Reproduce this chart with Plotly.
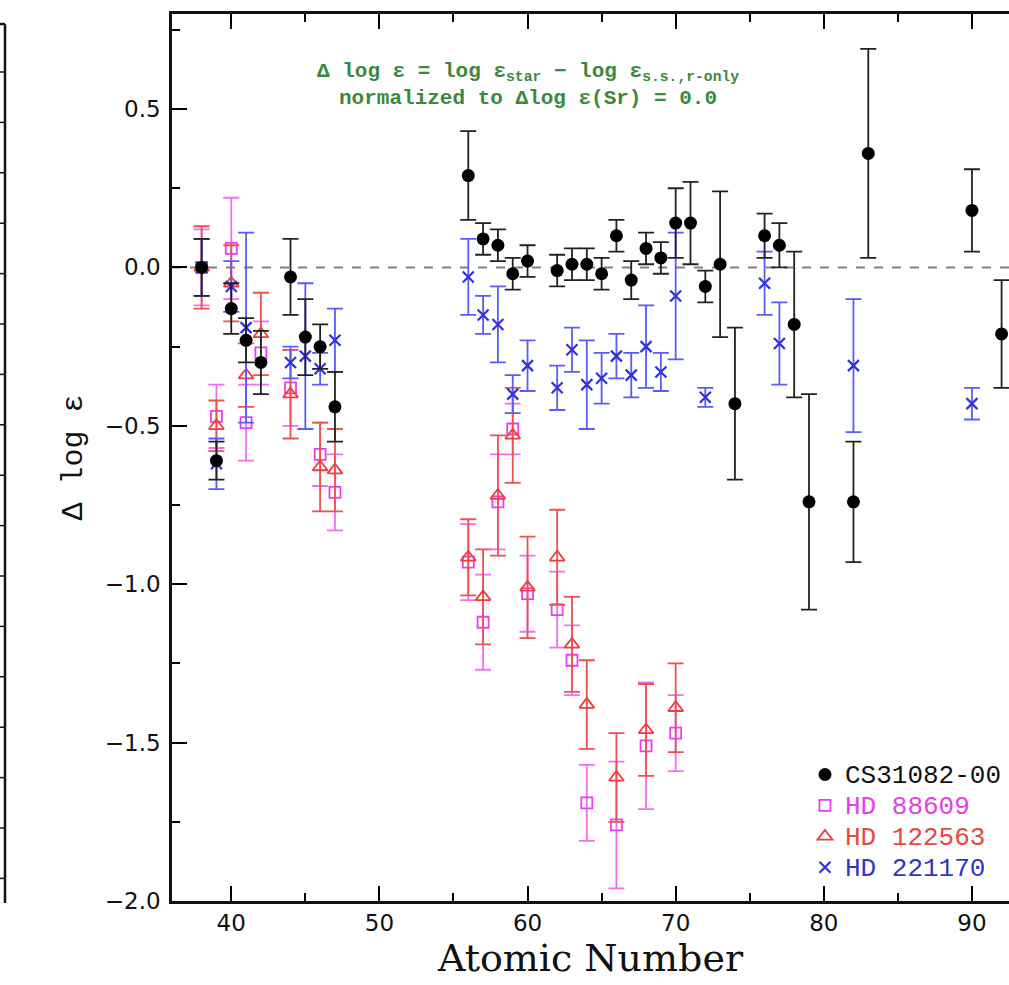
import plotly.graph_objects as go

# ---------------- data ----------------
z_cs = [38, 39, 40, 41, 42, 44, 45, 46, 47, 56, 57, 58, 59, 60, 62, 63, 64, 65, 66, 67, 68, 69, 70, 71, 72, 73, 74, 76, 77, 78, 79, 82, 83, 90, 92]
v_cs = [0.00, -0.61, -0.13, -0.23, -0.30, -0.03, -0.22, -0.25, -0.44, 0.29, 0.09, 0.07, -0.02, 0.02, -0.01, 0.01, 0.01, -0.02, 0.10, -0.04, 0.06, 0.03, 0.14, 0.14, -0.06, 0.01, -0.43, 0.10, 0.07, -0.18, -0.74, -0.74, 0.36, 0.18, -0.21]
e_cs = [0.09, 0.06, 0.08, 0.07, 0.10, 0.12, 0.12, 0.07, 0.11, 0.14, 0.05, 0.05, 0.05, 0.05, 0.05, 0.05, 0.05, 0.05, 0.05, 0.06, 0.05, 0.05, 0.11, 0.13, 0.05, 0.23, 0.24, 0.07, 0.07, 0.23, 0.34, 0.19, 0.33, 0.13, 0.17]

z_88 = [38, 39, 40, 41, 42, 44, 46, 47, 56, 57, 58, 59, 60, 62, 63, 64, 66, 68, 70]
v_88 = [0.00, -0.47, 0.06, -0.49, -0.27, -0.38, -0.59, -0.71, -0.93, -1.12, -0.74, -0.51, -1.03, -1.08, -1.24, -1.69, -1.76, -1.51, -1.47]
e_88 = [0.12, 0.10, 0.16, 0.12, 0.10, 0.12, 0.10, 0.12, 0.12, 0.15, 0.15, 0.08, 0.12, 0.12, 0.11, 0.12, 0.20, 0.20, 0.12]

z_12 = [38, 39, 40, 41, 42, 44, 46, 47, 56, 57, 58, 59, 60, 62, 63, 64, 66, 68, 70]
v_12 = [0.00, -0.50, -0.05, -0.34, -0.21, -0.40, -0.63, -0.64, -0.915, -1.04, -0.72, -0.53, -1.01, -0.915, -1.19, -1.38, -1.61, -1.46, -1.39]
e_12 = [0.13, 0.08, 0.12, 0.10, 0.13, 0.14, 0.14, 0.13, 0.12, 0.15, 0.19, 0.15, 0.16, 0.15, 0.15, 0.14, 0.14, 0.145, 0.14]

z_22 = [38, 39, 40, 41, 44, 45, 46, 47, 56, 57, 58, 59, 60, 62, 63, 64, 65, 66, 67, 68, 69, 70, 72, 76, 77, 82, 90]
v_22 = [0.00, -0.62, -0.06, -0.19, -0.30, -0.28, -0.32, -0.23, -0.03, -0.15, -0.18, -0.40, -0.31, -0.38, -0.26, -0.37, -0.35, -0.28, -0.34, -0.25, -0.33, -0.09, -0.41, -0.05, -0.24, -0.31, -0.43]
e_22 = [0.09, 0.08, 0.08, 0.30, 0.05, 0.23, 0.05, 0.10, 0.12, 0.06, 0.12, 0.06, 0.08, 0.07, 0.07, 0.14, 0.08, 0.07, 0.07, 0.13, 0.06, 0.20, 0.03, 0.10, 0.13, 0.21, 0.05]

# legend labels as visible in the (cropped) figure
names = ["CS31082-00", "HD 88609", "HD 122563", "HD 221170"]
x_range = [36.0, 92.5]
y_range = [-2.0, 0.8]

# ---------------- layout geometry ----------------
W, H = 1009, 985
ML, MR, MT, MB = 172, 0, 14, 84
PW = W - ML - MR
PH = H - MT - MB


def px_x(p):
    return (p - ML) / PW


def px_y(p):
    return (H - MB - p) / PH


MONO = "Liberation Mono, Courier New, monospace"

fig = go.Figure()


def add_series(z, v, e, name, color, barcolor, symbol, size, lw, rank, fill=None):
    fig.add_trace(go.Scatter(
        x=z, y=v, mode="markers", name=name, legendrank=rank,
        marker=dict(symbol=symbol, size=size, color=fill if fill else color,
                    line=dict(color=color, width=lw)),
        error_y=dict(type="data", array=e, visible=True, color=barcolor,
                     thickness=1.8, width=8),
    ))


def lbl(text, color):
    return "<span style='color:%s;font-size:26px'>%s</span>" % (color, text)


add_series(z_88, v_88, e_88, lbl(names[1], "#e83ce8"),
           "#f03cf0", "#f070f0", "square-open", 11, 1.8, 2)
add_series(z_12, v_12, e_12, lbl(names[2], "#e8483c"),
           "#f03c3c", "#f05050", "triangle-up-open", 13, 1.8, 3)
add_series(z_22, v_22, e_22, lbl(names[3], "#3434c8"),
           "#3030e0", "#5a5aff", "x-thin-open", 11, 2.2, 4)
add_series(z_cs, v_cs, e_cs, lbl(names[0], "#111111"),
           "#000000", "#222222", "circle", 13, 0, 1, fill="#000000")

# empty helper trace so that the mirrored top axis (x2) is drawn
fig.add_trace(go.Scatter(x=[None], y=[None], xaxis="x2", yaxis="y", mode="markers",
                         showlegend=False, hoverinfo="skip"))

# dashed zero line
fig.add_shape(type="line", xref="paper", yref="y", x0=0, x1=1, y0=0, y1=0,
              line=dict(color="#808080", width=2, dash="dash"), layer="below")

# partial frame of the neighbouring panel at the left edge
xl = px_x(5)
fig.add_shape(type="line", xref="paper", yref="paper", x0=xl, x1=xl,
              y0=px_y(24), y1=px_y(903), line=dict(color="#111", width=2.5))
fig.add_shape(type="line", xref="paper", yref="paper", x0=px_x(0), x1=xl,
              y0=px_y(24), y1=px_y(24), line=dict(color="#111", width=2.5))
for i in range(17):
    ty = 72 + i * 50.4
    fig.add_shape(type="line", xref="paper", yref="paper", x0=px_x(0), x1=xl,
                  y0=px_y(ty), y1=px_y(ty), line=dict(color="#111", width=1.5))

fig.add_annotation(
    xref="paper", yref="paper", x=px_x(528), y=px_y(58), xanchor="center", yanchor="top",
    text="<b>Δ log ε = log ε<sub>star</sub> − log ε<sub>s.s.,r-only</sub></b><br><b>normalized to Δlog ε(Sr) = 0.0</b>",
    showarrow=False, align="center",
    font=dict(family=MONO, size=21, color="#3b8a3b"),
)

axis_common = dict(
    showgrid=False, zeroline=False, showline=True, linecolor="#111", linewidth=2.5,
    ticks="inside", ticklen=15, tickwidth=2, tickcolor="black",
    tickfont=dict(family="DejaVu Sans", size=23, color="#111"),
)
minor_x = dict(dtick=5, ticklen=8, tickwidth=2, tickcolor="black", ticks="inside", showgrid=False)

fig.update_layout(
    width=W, height=H,
    margin=dict(l=ML, r=MR, t=MT, b=MB, autoexpand=False),
    paper_bgcolor="white", plot_bgcolor="white",
    showlegend=True,
    legend=dict(xref="container", yref="container", x=805 / W, y=1 - 754 / H,
                xanchor="left", yanchor="top",
                bgcolor="rgba(0,0,0,0)", font=dict(family=MONO, size=21.5, color="#111"),
                itemwidth=30, tracegroupgap=0),
    xaxis=dict(range=x_range, dtick=10, tick0=0, mirror=False, minor=minor_x,
               title=dict(text="Atomic Number", font=dict(family="DejaVu Serif", size=38, color="#111"),
                          standoff=6),
               **axis_common),
    xaxis2=dict(range=x_range, dtick=10, tick0=0, overlaying="x", side="top", anchor="y",
                showticklabels=False, minor=minor_x, **axis_common),
    yaxis=dict(range=y_range, dtick=0.5, tick0=0, tickformat=".1f", mirror=False,
               ticklabelstandoff=4,
               minor=dict(dtick=0.25, ticklen=8, tickwidth=2, tickcolor="black", ticks="inside",
                          showgrid=False),
               title=dict(text="Δ log ε", font=dict(family=MONO, size=30, color="#111"),
                          standoff=14),
               **axis_common),
)

fig.write_html("out.html")
